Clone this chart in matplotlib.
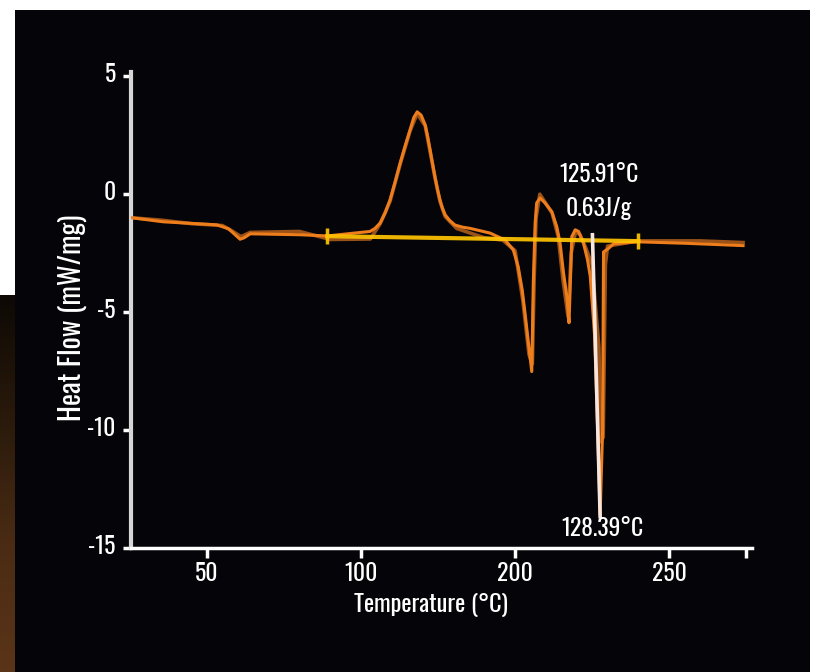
"""DSC heat-flow trace on a black panel."""
import matplotlib
matplotlib.use("Agg")
import matplotlib.pyplot as plt
import matplotlib.transforms as mtransforms
import numpy as np
from matplotlib.patches import Rectangle

BLACK = "#040409"
ORANGE = "#EE7D1C"
BROWN = "#9A5218"
YELLOW = "#FFC400"
WHITE = "#FFFFFF"
FONT = ["Oswald", "DejaVu Sans"]

# main trace (temperature axis units, mW/mg)
temp = [25.6, 35.7, 53.2, 57.0, 60.7, 62.0, 64.0, 80.2, 89.0, 102.9, 104.5, 106.2,
        107.8, 109.4, 111.0, 112.7, 114.3, 115.9, 117.1, 118.2, 119.5, 120.8, 121.6,
        122.4, 123.2, 124.0, 124.8, 125.6, 126.4, 127.3, 128.8, 130.5, 133.0, 135.4,
        141.9, 146.8, 149.4, 151.0, 152.3, 153.2, 154.2, 155.4, 155.9, 156.5, 157.0,
        158.1, 159.7, 161.9, 163.5, 164.6, 165.7, 166.8, 167.5, 168.1, 168.4, 169.5,
        170.6, 172.2, 173.5, 174.4, 175.8, 176.8, 177.6, 178.4, 178.7, 180.3, 182.0,
        190.0, 205.0, 224.0]
heat = [-1.00, -1.17, -1.30, -1.47, -1.91, -1.85, -1.68, -1.72, -1.77, -1.58, -1.45, -1.22,
        -0.80, -0.24, 0.50, 1.33, 2.05, 2.73, 3.25, 3.49, 3.35, 2.94, 2.45,
        1.88, 1.30, 0.73, 0.20, -0.24, -0.60, -0.88, -1.12, -1.31, -1.40, -1.45,
        -1.65, -1.95, -2.36, -3.08, -4.06, -5.03, -6.17, -7.52, -3.76, -1.22, -0.37,
        -0.16, -0.37, -0.74, -1.37, -2.08, -3.33, -4.34, -5.45, -3.07, -1.80, -1.51,
        -1.58, -2.08, -2.78, -3.49, -6.00, -10.0, -13.6, -10.0, -2.45, -2.30, -2.10,
        -2.02, -2.08, -2.18]

# second (shadow) trace
temp2 = [25.6, 35.0, 45.0, 55.0, 58.0, 61.0, 64.0, 80.0, 90.0, 103.0, 106.2, 109.4,
         112.7, 115.9, 118.2, 120.8, 122.4, 124.0, 125.6, 127.3, 131.0, 140.0, 146.0,
         150.0, 152.5, 154.5, 155.6, 156.2, 156.8, 158.0, 160.0, 162.0, 164.0, 165.5,
         167.2, 168.2, 169.6, 171.0, 173.0, 175.0, 177.2, 177.8, 178.6, 179.3, 180.0,
         190.0, 210.0, 224.0]
heat2 = [-1.00, -1.10, -1.25, -1.33, -1.55, -1.80, -1.62, -1.58, -1.92, -1.90, -1.25, -0.30,
         1.28, 2.68, 3.42, 2.90, 1.80, 0.68, -0.30, -0.95, -1.45, -1.85, -1.95,
         -2.40, -4.50, -6.80, -7.20, -3.50, -1.00, 0.00, -0.40, -0.80, -1.80, -3.60,
         -5.20, -2.50, -1.60, -1.70, -2.30, -3.00, -6.50, -10.50, -10.30, -3.00, -2.20,
         -1.98, -1.98, -2.05]

# integration baseline
base_t = [89.0, 190.0]
base_h = [-1.78, -1.99]

# peak marker line
mark_t = [175.1, 177.6]
mark_h = [-1.72, -13.67]

x_ticks = [50, 100, 150, 200, 225]
x_labels = ["50", "100", "200", "250", ""]
y_ticks = [5, 0, -5, -10, -15]
y_labels = ["5", "0", "-5", "-10", "-15"]

plt.rcParams["font.family"] = FONT

W, H = 817, 672
fig = plt.figure(figsize=(W / 100, H / 100), dpi=100)
fig.patch.set_facecolor(WHITE)

# black panel and brown strip at left
fig.add_artist(Rectangle((15 / W, 0), (810 - 15) / W, (H - 10) / H,
                         transform=fig.transFigure, facecolor=BLACK,
                         edgecolor="none", zorder=0))
strip = fig.add_axes([0, 0, 15 / W, (H - 295) / H])
grad = np.linspace(0, 1, 100)[:, None]
cmap = matplotlib.colors.LinearSegmentedColormap.from_list(
    "br", ["#0e0905", "#2a1a0b", "#4a2c14", "#5a3418"])
strip.imshow(grad, aspect="auto", cmap=cmap, origin="upper")
strip.axis("off")

ax = fig.add_axes([131 / W, (H - 548) / H, (752 - 131) / W, (548 - 72) / H])
ax.set_facecolor("none")
ax.set_xlim(25.3, 226.9)
ax.set_ylim(-15, 5.18)

ax.plot(temp2, heat2, color=BROWN, lw=2.6, zorder=2, solid_joinstyle="round")
ax.plot(temp, heat, color=ORANGE, lw=2.2, zorder=3, solid_joinstyle="round")
ax.plot(base_t, base_h, color=YELLOW, lw=3, alpha=0.92, zorder=4,
        marker="|", markersize=12, markeredgewidth=2.5)
ax.plot(mark_t, mark_h, color="#f6e6df", lw=2.6, zorder=5)

txt = dict(color=WHITE, fontsize=17, ha="center", va="center", zorder=6)
ax.text(177.3, 0.82, "125.91°C", **txt)
ax.text(177.1, -0.60, "0.63J/g", **txt)
ax.text(178.2, -14.18, "128.39°C", **txt)

for side in ("top", "right"):
    ax.spines[side].set_visible(False)
ax.spines["left"].set_color("#d6d6d6")
ax.spines["left"].set_linewidth(3)
ax.spines["bottom"].set_color(WHITE)
ax.spines["bottom"].set_linewidth(2.5)

ax.set_xticks(x_ticks)
ax.set_xticklabels(x_labels)
ax.set_yticks(y_ticks)
ax.set_yticklabels(y_labels)
ax.tick_params(axis="both", colors=WHITE, labelsize=17, width=2.5)
ax.tick_params(axis="x", length=7, pad=3)
ax.tick_params(axis="y", length=6, pad=5)

shift = mtransforms.ScaledTranslation(0, 4 / 100, fig.dpi_scale_trans)
for lab in ax.get_yticklabels():
    lab.set_transform(lab.get_transform() + shift)

ax.set_xlabel("Temperature (°C)", color=WHITE, fontsize=17.5)
ax.set_ylabel("Heat Flow (mW/mg)", color=WHITE, fontsize=20.5)
ax.xaxis.set_label_coords(0.483, -0.095)
ax.yaxis.set_label_coords(-0.071, 0.483)

fig.savefig("out.png", dpi=100, facecolor=WHITE)
